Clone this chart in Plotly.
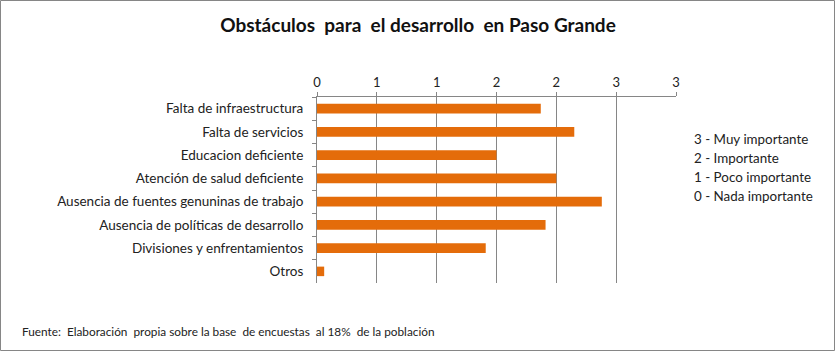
import plotly.graph_objects as go

categories = [
    "Falta de infraestructura",
    "Falta de servicios",
    "Educacion deficiente",
    "Atención de salud deficiente",
    "Ausencia de fuentes genuninas de trabajo",
    "Ausencia de políticas de desarrollo",
    "Divisiones y enfrentamientos",
    "Otros",
]
values = [1.87, 2.15, 1.50, 2.00, 2.38, 1.91, 1.41, 0.06]
tick_values = [0, 0.5, 1, 1.5, 2, 2.5, 3]
tick_labels = ["0", "1", "1", "2", "2", "3", "3"]
scale_text = ["3 - Muy importante", "2 - Importante", "1 - Poco importante", "0 - Nada importante"]

FONT = "Lato"
GRID = "#868686"

fig = go.Figure()
fig.add_trace(go.Bar(
    y=categories, x=values, orientation="h",
    marker=dict(color="#E46C0A", line=dict(width=0)),
    width=0.41,
))

W, H = 836, 352
ml, mr, mt, mb = 317, 160, 97, 69
pw, ph = W - ml - mr, H - mt - mb

fig.update_layout(
    width=W, height=H,
    margin=dict(l=ml, r=mr, t=mt, b=mb),
    paper_bgcolor="white", plot_bgcolor="white",
    showlegend=False,
    font=dict(family=FONT, size=13, color="#222"),
    title=dict(text="<b>Obstáculos  para  el desarrollo  en Paso Grande</b>",
               x=0.5, xanchor="center", y=1 - 25 / H, yanchor="middle",
               font=dict(family=FONT, size=19, color="#111")),
    xaxis=dict(side="top", range=[0, 3], tickvals=tick_values, ticktext=tick_labels,
               showgrid=True, gridcolor=GRID, gridwidth=1,
               showline=True, linecolor=GRID, linewidth=1,
               ticks="outside", ticklen=4, tickcolor=GRID,
               zeroline=False, fixedrange=True,
               tickfont=dict(family=FONT, size=13, color="#222")),
    yaxis=dict(autorange="reversed", showgrid=False,
               showline=True, linecolor=GRID, linewidth=1,
               ticks="outside", ticklen=4, tickcolor=GRID, tickson="boundaries",
               tickfont=dict(family=FONT, size=13.5, color="#222"),
               ticklabelstandoff=10),
    bargap=0.59,
)

for i, line in enumerate(scale_text):
    fig.add_annotation(
        text=line, xref="paper", yref="paper",
        x=(692 - ml) / pw, y=1 - (139 + 19 * i - mt) / ph, xanchor="left", yanchor="middle",
        align="left", showarrow=False,
        font=dict(family=FONT, size=13.4, color="#222"),
    )
fig.add_annotation(
    text="Fuente:  Elaboración  propia sobre la base  de encuestas  al 18%  de la población",
    xref="paper", yref="paper",
    x=(20 - ml) / pw, y=1 - (331 - mt) / ph, xanchor="left", yanchor="middle",
    align="left", showarrow=False,
    font=dict(family=FONT, size=11.8, color="#222"),
)
fig.add_shape(
    type="rect", xref="paper", yref="paper",
    x0=(0.5 - ml) / pw, x1=(W - 1.5 - ml) / pw,
    y0=1 - (H - 1.5 - mt) / ph, y1=1 - (0.5 - mt) / ph,
    line=dict(color="#868686", width=1), layer="below",
)

fig.write_html("out.html")
